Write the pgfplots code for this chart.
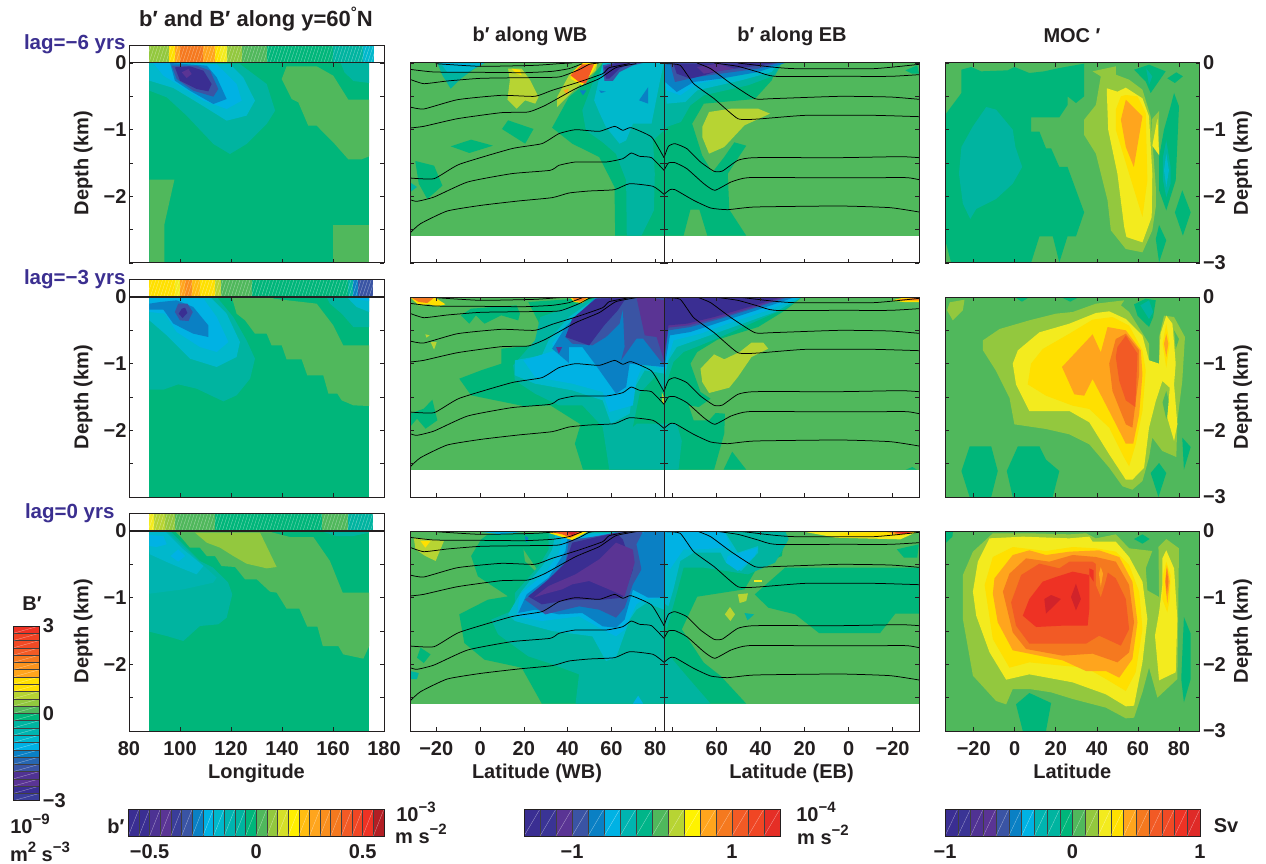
\documentclass[border=0pt]{standalone}
\usepackage{fontspec}
\usepackage{pgfplots}
\pgfplotsset{compat=1.18}
\usetikzlibrary{patterns.meta}
\setmainfont{Liberation Sans}
\definecolor{ink}{HTML}{231F20}
\definecolor{lagc}{HTML}{3B2F90}
\definecolor{c1}{HTML}{3A2E92}\definecolor{c2}{HTML}{5A3494}\definecolor{c3}{HTML}{3A54A4}
\definecolor{c4}{HTML}{0A80C4}\definecolor{c5}{HTML}{00B2E4}\definecolor{c6}{HTML}{00B8CC}
\definecolor{c6x}{HTML}{00B4B0}\definecolor{c7}{HTML}{00B4A0}\definecolor{c8}{HTML}{00B67A}
\definecolor{c9}{HTML}{50B85C}\definecolor{c10}{HTML}{93C83E}\definecolor{c11}{HTML}{B7D433}
\definecolor{c12}{HTML}{F3EB1E}\definecolor{c13}{HTML}{FFE000}\definecolor{c14}{HTML}{FFA51D}
\definecolor{c15}{HTML}{F5791F}\definecolor{c16}{HTML}{F25A25}\definecolor{c17}{HTML}{EE3224}
\definecolor{c18}{HTML}{D1232A}
\newcommand\tk{\fontsize{20}{22}\selectfont\bfseries\color{ink}}
\newcommand\ttl{\fontsize{22}{24}\selectfont\bfseries\color{ink}}
\newcommand\lagfont{\fontsize{20.5}{22}\selectfont\bfseries\color{lagc}}
\newcommand\up[1]{\raisebox{.42em}{\fontsize{15}{15}\selectfont #1}}
\newcommand\Pg[2]{\addplot[fill=#1,draw=none] coordinates {#2} --cycle;}
% strip segment: lon a to b
\newcommand\St[3]{\addplot[fill=#3,draw=none] coordinates {(#1,0)(#2,0)(#2,1)(#1,1)} --cycle;}
\newcommand\Stripe[2]{\addplot[draw=none,opacity=.45,pattern={Lines[angle=72,distance=3.2pt,line width=.35pt]},pattern color=white] coordinates {(#1,0)(#2,0)(#2,1)(#1,1)} --cycle;}
% horizontal and vertical colour-bar swatches
\newcommand\Sw[3]{\addplot[fill=#3,draw=black!75,line width=.5pt] coordinates {(#1,0)(#2,0)(#2,1)(#1,1)} --cycle;
  \addplot[white,opacity=.55,line width=.3pt] coordinates {(#1,0)(#2,1)};}
\newcommand\Sv[3]{\addplot[fill=#3,draw=black!75,line width=.5pt] coordinates {(0,#1)(1,#1)(1,#2)(0,#2)} --cycle;
  \addplot[white,opacity=.55,line width=.3pt] coordinates {(0,#1)(1,#2)};}
\pgfplotsset{
  base/.style={scale only axis,axis on top,clip=true,y dir=reverse,ymin=0,ymax=3,
    axis line style={line width=1pt,color=ink},
    major tick style={line width=.7pt,color=ink},minor tick style={line width=.7pt,color=ink},
    tick align=inside,major tick length=4pt,minor tick length=4pt,
    tick label style={font=\tk},label style={font=\tk},
    minor ytick={.5,1.5,2.5},xlabel style={at={(axis description cs:.5,-.235)},anchor=base}},
  lpanel/.style={base,width=255pt,height=200pt,xmin=80,xmax=180,xtick={80,100,...,180},
    ytick={0,1,2,3},yticklabels={0,−1,−2,{}},ylabel={Depth (km)},
    ylabel style={at={(axis description cs:-.18,.5)},anchor=center},
    xticklabels={},yticklabel style={xshift=1pt}},
  strip/.style={scale only axis,axis on top,width=255pt,height=17pt,xmin=80,xmax=180,ymin=0,ymax=1,
    ticks=none,axis line style={line width=1pt,color=ink}},
  mwb/.style={base,width=254pt,height=200pt,xmin=-32,xmax=84,xtick={-20,0,...,80},ytick={0,1,2,3},yticklabels={},xticklabels={}},
  meb/.style={base,width=255pt,height=200pt,x dir=reverse,xmin=-32,xmax=84,xtick={-20,0,...,80},ytick={0,1,2,3},yticklabels={},xticklabels={}},
  moc/.style={base,width=254.5pt,height=200pt,xmin=-34,xmax=90,xtick={-20,0,...,80},ytick={0,1,2,3},
    yticklabels={0,−1,−2,−3},yticklabel pos=right,ylabel={Depth (km)},
    ylabel style={at={(axis description cs:1.17,.5)},anchor=center,rotate=0},xticklabels={}},
  cbh/.style={scale only axis,height=27pt,ymin=0,ymax=1,ytick=\empty,tick label style={font=\tk},xticklabel style={yshift=-5pt},major tick length=0pt,
    axis line style={line width=.8pt,color=ink},axis on top},
  iso/.style={black,line width=.75pt,line join=round,smooth,tension=.3},
}
\newcommand\WBlines{
\addplot[iso] coordinates {(-20.3,.01)(.2,.05)(25,.035)(36,.01)(42,0)};
\addplot[iso] coordinates {(-32,.095)(-21,.135)(.2,.14)(20.2,.145)(32.9,.125)(40.6,.085)(46.7,.01)};
\addplot[iso] coordinates {(-32,.245)(-25.7,.31)(-15,.27)(.2,.23)(20.2,.22)(36,.21)(45.2,.1)(49.8,.02)(54.4,0)};
\addplot[iso] coordinates {(-32,.66)(-25.7,.69)(-10.3,.55)(9.7,.485)(25,.5)(32.9,.41)(45.2,.285)(56,.16)(59,.07)(68.3,.01)};
\addplot[iso] coordinates {(-32,.975)(-25.7,.95)(-10.3,.835)(9.7,.745)(22,.735)(29.8,.635)(43.6,.385)(54.4,.235)(62,.07)(71.4,.01)};
\addplot[iso] coordinates {(-32,1.725)(-21,1.735)(-9.5,1.52)(14.4,1.285)(28.2,1.21)(36,1.06)(43.6,1)(54.4,1.025)(61.4,.95)(65.2,1.01)(69,.97)(78.3,1.11)(84,1.42)};
\addplot[iso] coordinates {(-32,2.05)(-28.8,2.075)(-21,2.01)(-5.7,1.785)(14.4,1.66)(32,1.61)(36,1.535)(43.6,1.485)(57.5,1.485)(65.2,1.435)(69,1.35)(72.9,1.4)(78.3,1.42)(84,1.61)};
\addplot[iso] coordinates {(-32,2.55)(-27.2,2.41)(-15,2.22)(.5,2.135)(17.4,2.07)(32.9,2.02)(40.6,1.95)(49.8,1.92)(61.4,1.9)(68.3,1.81)(79,1.85)(84,1.97)};
}
\newcommand\EBlines{
\addplot[iso] coordinates {(50.4,0)(35,.06)(24.3,.085)(-11.2,.085)(-32,.02)};
\addplot[iso] coordinates {(61.2,0)(50.4,.05)(41.2,.135)(33.5,.2)(4.2,.2)(-18.9,.2)(-32,.175)};
\addplot[iso] coordinates {(69,0)(62.8,.085)(53.5,.31)(42.7,.535)(35,.535)(4.2,.5)(-18.9,.51)(-32,.545)};
\addplot[iso] coordinates {(82.8,.01)(76.6,.035)(70.5,.31)(61.2,.535)(50.4,.835)(41.2,.84)(19.6,.785)(-11.2,.785)(-32,.805)};
\addplot[iso] coordinates {(84,1.42)(82,1.25)(79,1.21)(73.6,1.285)(67.4,1.485)(61.2,1.625)(57.4,1.62)(50.4,1.46)(42.7,1.42)(4.2,1.42)(-23.5,1.405)(-32,1.42)};
\addplot[iso] coordinates {(84,1.61)(82,1.5)(79,1.495)(73.6,1.585)(65.9,1.81)(60.9,1.91)(53.5,1.785)(45.8,1.72)(19.6,1.72)(-11.2,1.72)(-26.6,1.72)(-32,1.75)};
\addplot[iso] coordinates {(84,1.97)(81.3,1.9)(79,1.9)(70.5,2.06)(62.8,2.175)(55,2.2)(42.7,2.16)(4.2,2.145)(-18.9,2.17)(-32,2.235)};
}
\newcommand\Base[1]{\addplot[fill=#1,draw=none] coordinates {(-32,0)(84,0)(84,2.59)(-32,2.59)} --cycle;}
\begin{document}
\begin{tikzpicture}[x=1pt,y=1pt]
\useasboundingbox (0,0) rectangle (1266,863);

%% ---------- strips ----------
\begin{axis}[strip,at={(129pt,800pt)},anchor=south west]
\St{88}{95.8}{c10}\St{95.8}{98}{c13}\St{98}{100}{c14}\St{100}{109.2}{c15}\St{109.2}{113.7}{c14}\St{113.7}{115.7}{c13}\St{115.7}{118.3}{c12}\St{118.3}{124.2}{c10}\St{124.2}{134}{c9}\St{134}{160.1}{c8}\St{160.1}{171.9}{c7}\St{171.9}{176.1}{c6}
\Stripe{88}{176.1}
\end{axis}
\begin{axis}[strip,at={(129pt,566pt)},anchor=south west]
\St{88}{98}{c13}\St{98}{100}{c12}\St{100}{102}{c14}\St{102}{104.6}{c14!50!c15}\St{104.6}{107.8}{c13!40!c14}\St{107.8}{113.7}{c13}\St{113.7}{116}{c11}\St{116}{128.1}{c9}\St{128.1}{166}{c8}\St{166}{168}{c7}\St{168}{169.9}{c4}\St{169.9}{175.8}{c3}
\Stripe{88}{175.8}
\end{axis}
\begin{axis}[strip,at={(129pt,332pt)},anchor=south west]
\St{88}{89.9}{c12}\St{89.9}{94.1}{c11}\St{94.1}{98}{c10}\St{98}{113.7}{c9}\St{113.7}{155.6}{c8}\St{155.6}{166}{c9}\St{166}{175.8}{c7}
\Stripe{88}{175.8}
\end{axis}

%% ---------- longitude panels ----------
\begin{axis}[lpanel,at={(129pt,600pt)},anchor=south west]
\Pg{c8}{(88,0)(174.2,0)(174.2,3)(88,3)}
\Pg{c9}{(141.8,.05)(153.6,.05)(160.1,.19)(166,.55)(174.2,.55)(174.2,1.4)(171.2,1.445)(166,1.445)(160.1,1.19)(153.6,.94)(150.3,.94)(146.4,.59)(143.8,.54)(139.9,.24)}
\Pg{c9}{(88,1.75)(97.8,1.75)(93.9,2.415)(93.9,3)(88,3)}
\Pg{c9}{(160.1,2.425)(174.2,2.425)(174.2,3)(160.1,3)}
\Pg{c7}{(163,0)(174.2,0)(174.2,.3)(168,.27)(164.5,.14)}
\Pg{c7}{(88,.415)(94.8,.515)(102.6,.79)(113.1,1.215)(119.6,1.365)(126.1,1.215)(134,.915)(137.3,.715)(134,.315)(123.5,.015)(88,0)}
\Pg{c6}{(88,0)(88,.265)(97.4,.375)(107.8,.615)(118.3,.865)(126.1,.79)(129.4,.565)(124.8,.215)(119.6,.015)}
\Pg{c5}{(89.5,0)(93.5,.19)(100,.34)(109.2,.565)(118.3,.69)(124.2,.565)(122.2,.315)(114.4,.015)}
\Pg{c4}{(96.1,0)(98,.265)(103.9,.415)(113.1,.615)(118.3,.54)(114.4,.215)(110.5,.04)}
\Pg{c3}{(96.7,.04)(98.7,.24)(105.2,.415)(113.1,.505)(115,.39)(111.8,.115)(106.5,.04)}
\Pg{c1}{(98,.065)(100,.265)(106.5,.39)(111.1,.425)(112.4,.315)(109.2,.115)(103.9,.05)}
\Pg{c2}{(100.7,.14)(102.6,.225)(104.6,.165)(103.3,.09)}
\end{axis}

\begin{axis}[lpanel,at={(129pt,366pt)},anchor=south west]
\Pg{c8}{(88,0)(174.2,0)(174.2,3)(88,3)}
\Pg{c9}{(120.3,0)(136.6,0)(136.6,.025)(153.6,.1)(160.1,.425)(164,.725)(174.2,.725)(174.2,1.635)(168,1.625)(163.4,1.55)(161.7,1.45)(158.2,1.45)(156.2,1.175)(149.9,1.175)(147.7,.935)(141.8,.935)(139.9,.725)(135.9,.725)(134,.55)(129.4,.55)(125.5,.35)(122.2,.25)}
\Pg{c7}{(157.5,0)(174.2,0)(174.2,.45)(168,.45)(163.4,.25)(158.8,.1)}
\Pg{c6}{(165.4,0)(174.2,0)(174.2,.225)(169.3,.15)}
\Pg{c5}{(168,0)(174.2,0)(174.2,.06)(170,.04)}
\Pg{c7}{(88,0)(88,1.39)(93.5,1.39)(99.3,1.31)(106.5,1.375)(117,1.565)(122.2,1.475)(127.5,1.225)(129.4,.925)(126.1,.65)(120.9,.3)(114.4,0)}
\Pg{c6}{(88,0)(88,.35)(94.8,.575)(103.9,.925)(114.4,1.05)(122.2,.9)(123.5,.675)(118.3,.25)(111.8,0)}
\Pg{c5}{(88,0)(88,.225)(94.1,.25)(98.7,.525)(107.8,.75)(114.4,.825)(119,.675)(114.4,.3)(109.2,.025)}
\Pg{c4}{(88,.1)(88,.19)(93.5,.19)(97.4,.4)(105.2,.55)(111.1,.6)(111.1,.425)(105.2,.15)(98.7,.05)(92.2,.075)}
\Pg{c3}{(98,.225)(100,.35)(103.3,.36)(105,.225)(102.9,.1)(99.3,.1)}
\Pg{c1}{(99.5,.25)(101,.315)(102.9,.24)(102,.16)(100.7,.175)}
\end{axis}

\begin{axis}[lpanel,at={(129pt,132pt)},anchor=south west,
  xticklabels={80,100,120,140,160,180},xlabel={Longitude},xticklabel style={yshift=-7pt}]
\Pg{c8}{(88,0)(174.2,0)(174.2,3)(88,3)}
\Pg{c9}{(98,0)(134,0)(143.1,.09)(152.3,.09)(158.8,.45)(163.8,.925)(174.2,.925)(174.2,1.725)(171.9,1.915)(164,1.85)(162.1,1.725)(156,1.725)(153.9,1.435)(149.9,1.435)(146.8,1.165)(141.8,1.165)(137.9,.925)(135.3,.91)(130.1,.725)(125.5,.725)(121.6,.54)(116.3,.525)(113.7,.375)(110.5,.375)(107.8,.25)(103.9,.25)(100,.075)}
\Pg{c10}{(105.9,.025)(131.4,.025)(137.9,.54)(134,.56)(126.1,.49)(120.9,.375)(115.7,.25)(110.5,.175)}
\Pg{c7}{(154.9,0)(174.2,0)(174.2,.025)(168,.075)(161.4,.075)}
\Pg{c7}{(88,0)(96.1,0)(107.8,.45)(113,.55)(118.9,.775)(120.5,.95)(118.3,1.3)(115,1.4)(107.8,1.425)(101.3,1.65)(94.8,1.575)(88,1.51)}
\Pg{c6x}{(88,0)(94.8,0)(106.5,.425)(114.4,.7)(113,.775)(101.3,.875)(88,.94)}
\Pg{c6}{(88,0)(94.1,0)(101.3,.275)(109.2,.525)(106.5,.65)(100,.55)(95.4,.475)(88.2,.35)(88,.3)}
\Pg{c5}{(88,.06)(93.5,.075)(94.8,.2)(90.8,.24)(88,.225)}
\Pg{c5}{(96.3,.375)(99.3,.275)(102,.375)(99.3,.46)}
\end{axis}

%% ---------- row 1, WB ----------
\begin{axis}[mwb,at={(410pt,600pt)},anchor=south west]
\Base{c9}
\Pg{c8}{(84,0)(56,0)(49.8,.26)(40.6,.51)(32.9,.97)(42.1,1.21)(54.4,1.41)(61.4,1.86)(61.7,2.59)(84,2.59)}
\Pg{c7}{(57.5,0)(51.3,.31)(46.7,.71)(48.3,1.01)(56,1.19)(62,1.36)(66.7,1.76)(67,2.59)(73.7,2.59)(79.4,2.21)(79.8,1.66)(79,1.16)(84,1.01)(84,0)}
\Pg{c6}{(56,0)(52.1,.56)(54.4,.74)(57.5,.96)(63.7,1.21)(66.7,1.16)(69.8,.91)(78.3,.91)(82.2,.26)(84,0)}
\Pg{c4}{(72.6,.56)(76.8,.36)(76.8,.61)}
\Pg{c3}{(56,.035)(60.6,0)(74.4,0)(69.8,.035)(63.7,.135)(60.6,.27)(56.8,.27)}
\Pg{c1}{(56.7,.06)(62,0)(69,0)(63.7,.085)(59,.235)(57.5,.235)}
\Pg{c7}{(-19.5,0)(2,0)(-2.6,.085)(-8.8,.235)(-13.4,.385)(-17.2,.185)}
\Pg{c6}{(-18,0)(2,0)(-5.7,.135)(-15,.135)}
\Pg{c5}{(-19.5,0)(0,.02)(-10,.03)}
\Pg{c8}{(-29.6,1.47)(-21,1.54)(-17.2,1.84)(-24.1,2.04)(-28,1.81)}
\Pg{c7}{(-32,1.79)(-28.8,1.86)(-32,1.94)}
\Pg{c8}{(12.8,.86)(24.4,.99)(20.6,1.21)(10,.99)}
\Pg{c8}{(-13.4,1.25)(-4.1,1.15)(5.9,1.24)(-4.9,1.35)}
\Pg{c11}{(12.8,.085)(19,.085)(22.9,.26)(26.7,.51)(25.2,.61)(20.6,.56)(16.7,.685)(12.5,.55)(13.6,.26)}
\Pg{c13}{(14.4,.085)(18.2,.1)(19,.185)(16.7,.16)}
\Pg{c11}{(35.2,.66)(35.2,.51)(40.6,.185)(46.7,.01)(53.6,0)(52.9,.11)(43.6,.385)}
\Pg{c13}{(41.3,.16)(46.7,0)(53.6,0)(51.3,.135)(46.7,.335)(41.3,.235)}
\Pg{c16}{(41.3,.185)(46.7,.02)(52,.02)(48.3,.31)(45.2,.285)}
\Pg{c14}{(38.2,.41)(40.5,.385)(39.8,.485)}
\Pg{c4}{(45.5,.41)(48.6,.41)(47,.485)}
\Pg{c4}{(54.4,.41)(57.5,.43)(55.2,.45)}
\WBlines
\end{axis}
%% ---------- row 1, EB ----------
\begin{axis}[meb,at={(664pt,600pt)},anchor=south west]
\Base{c9}
\Pg{c8}{(84,0)(32,0)(35,.26)(42.7,.54)(65.9,.61)(71.2,.91)(66.6,1.39)(62,1.64)(56.6,1.41)(52,1.19)(46.6,1.24)(55,1.66)(54.3,2.2)(46.6,2.59)(64.3,2.59)(67.9,2.2)(72,2.2)(75.1,2.59)(84,2.59)}
\Pg{c7}{(84,0)(30.4,0)(33.5,.185)(45.8,.335)(65.9,.485)(72,.635)(76.3,.885)(82.8,.96)(84,1.16)}
\Pg{c6}{(84,0)(32,0)(35,.135)(48.9,.26)(68.9,.41)(74.3,.585)(82.8,.61)}
\Pg{c5}{(84,0)(30.4,0)(36.6,.085)(50.4,.185)(68.9,.31)(76.6,.485)(82.8,.41)}
\Pg{c4}{(84,0)(28.9,0)(41.2,.135)(58.2,.235)(70.5,.285)(78.2,.435)(83.5,.285)}
\Pg{c3}{(81.3,0)(32,0)(41.2,.085)(58.2,.16)(69,.21)(79,.285)}
\Pg{c1}{(79.7,.01)(33.5,0)(45.8,.06)(58.2,.11)(65.9,.185)(72,.235)(78.2,.16)}
\Pg{c2}{(69,.06)(59.7,.01)(52,.085)(65.9,.16)}
\Pg{c11}{(66.6,.96)(63.5,.735)(53.5,.685)(41.2,.685)(35.8,.76)(47.4,.935)(56.6,1.26)(63.5,1.36)(66.6,1.11)}
\Pg{c8}{(-25.8,.11)(-31.2,.035)(-32,.16)(-28.8,.16)}
\EBlines
\end{axis}
%% ---------- row 2, WB ----------
\begin{axis}[mwb,at={(410pt,366pt)},anchor=south west]
\Base{c9}
\Pg{c8}{(-8.8,.275)(-4.1,.175)(16.7,.125)(18.2,.25)(17.4,.35)(9.7,.275)(2,.4)(-1.9,.275)(-4.9,.4)}
\Pg{c8}{(56,0)(22,.075)(26.7,.375)(28.2,.625)(25.1,.725)(9.7,.775)(9.7,1)(.5,1.1)(-9.5,1.225)(-4.1,1.475)(20.5,1.64)(32.1,1.625)(45.9,1.91)(43.3,2.2)(47,2.59)(84,2.59)(84,0)}
\Pg{c7}{(54.4,0)(27.5,.3)(25.1,.65)(15.1,1.025)(15.9,1.25)(25.1,1.45)(36,1.625)(46.7,1.625)(56,1.95)(59,2.59)(84,2.59)(84,0)}
\Pg{c8}{(69.8,1.95)(72.9,1.45)(80.6,1.175)(84,1.45)(84,1.9)(71.4,1.9)}
\Pg{c11}{(83,1.425)(84,1.5)(84,1.62)(83,1.55)}
\Pg{c6}{(53.6,0)(40.6,.3)(31.3,.65)(28.2,.875)(15.9,.95)(15.9,1.175)(25.1,1.3)(42.1,1.4)(56,1.55)(59.8,1.9)(68.3,1.75)(69.8,1.4)(75.2,1.1)(84,1.15)(84,0)}
\Pg{c5}{(54.4,0)(40.6,.4)(32.9,.7)(34.4,.8)(19.8,.95)(25.1,1.2)(42.1,1.3)(56,1.425)(59,1.725)(69.8,1.625)(71.4,1.25)(74.5,1)(84,1.075)(84,0)}
\Pg{c4}{(52.9,0)(39,.45)(32.9,.775)(40.6,.99)(40.6,.75)(46.7,.75)(52.9,1.025)(62.1,1.45)(66.7,1.35)(68.3,1)(84,1.05)(84,0)}
\Pg{c3}{(54.4,0)(42.1,.35)(39,.6)(42.1,.7)(51.3,.725)(57.5,.6)(63.7,.4)(65.2,.175)(66,.75)(64.4,.95)(71.4,.625)(74.5,.625)(84,1.025)(84,0)}
\Pg{c1}{(52.9,.025)(42.1,.325)(39,.6)(49.8,.725)(56.7,.425)(62.9,.2)(66.7,.01)}
\Pg{c2}{(71.4,0)(75.2,.575)(80.6,.6)(84,.95)(84,.05)(76.8,0)}
\Pg{c2}{(34.7,.75)(37.5,.75)(36,.85)}
\Pg{c13}{(-32,0)(-20.5,.01)(-15.8,.11)(-19.5,.14)(-23.4,.11)(-28,.125)}
\Pg{c15}{(-31.4,.01)(-21,.01)(-24.1,.09)(-28,.075)}
\Pg{c13}{(41.3,.01)(49.8,.01)(46.7,.09)(42.8,.075)}
\Pg{c15}{(42.1,.01)(49,.01)(46,.07)(43.4,.06)}
\Pg{c11}{(-22.6,.675)(-19.8,.675)(-21,.79)}
\Pg{c11}{(-25,.56)(-23,.575)(-24.5,.61)}
\Pg{c8}{(-21.8,1.54)(-19.5,1.85)(-24.9,1.975)(-28.8,1.825)(-32,1.95)(-32,1.75)(-25.7,1.675)}
\WBlines
\end{axis}
%% ---------- row 2, EB ----------
\begin{axis}[meb,at={(664pt,366pt)},anchor=south west]
\Base{c9}
\Pg{c8}{(84,0)(21.2,0)(28.9,.2)(41.2,.45)(59.7,.64)(68.9,.825)(72,1)(67.4,1.425)(62.8,1.525)(68.2,1.65)(72.8,1.625)(70.5,1.85)(63.5,1.85)(60.5,1.74)(56.3,1.75)(56.6,2.05)(61.2,2.59)(84,2.59)}
\Pg{c8}{(56.9,2.59)(53,2.32)(46.6,2.59)}
\Pg{c7}{(84,0)(21.2,0)(27.3,.15)(41.2,.35)(56.6,.575)(67.4,.725)(75.1,.825)(79.7,.975)(84,1.4)}
\Pg{c7}{(84,1.9)(78.2,1.9)(75.9,2.16)(77.4,2.59)(84,2.59)}
\Pg{c6}{(84,0)(21.2,0)(33.5,.225)(50.4,.425)(67.4,.625)(78.2,.75)(82,.95)(84,1.25)}
\Pg{c5}{(84,0)(22,0)(36.6,.2)(55,.4)(67.4,.55)(79.7,.65)(84,1.15)}
\Pg{c4}{(84,0)(24.3,0)(39.7,.175)(58.2,.375)(72,.525)(81.3,.575)(84,1.1)}
\Pg{c3}{(84,0)(27.3,0)(41.2,.15)(58.2,.325)(72,.45)(82,.5)(84,1)}
\Pg{c2}{(84,0)(28.9,0)(41.9,.14)(59.7,.315)(72.8,.425)(82,.46)(84,.95)}
\Pg{c1}{(84,0)(30.4,0)(42.7,.125)(61.2,.3)(73.6,.4)(82,.425)(84,.9)}
\Pg{c11}{(67.4,1.075)(61.2,.86)(56.6,.935)(49.6,.825)(44.2,.685)(38.8,.685)(36.6,.775)(44.2,.9)(50.4,1.2)(54.3,1.36)(63.5,1.44)(66.6,1.275)}
\Pg{c13}{(-19.7,.05)(-25,.01)(-32,.01)(-32,.075)(-25,.075)}
\Pg{c15}{(-22,.04)(-32,.01)(-32,.05)(-25,.05)}
\Pg{c8}{(-26,2.59)(-29,2.55)(-31,2.59)}
\EBlines
\end{axis}
%% ---------- row 3, WB ----------
\begin{axis}[mwb,at={(410pt,132pt)},anchor=south west,
  xticklabels={−20,0,20,40,60,80},xlabel={Latitude (WB)},xticklabel style={yshift=-7pt}]
\Base{c9}
\Pg{c8}{(-4.1,.375)(.5,.125)(3.6,.05)(29.8,.025)(40.6,.025)(84,0)(84,2.59)(28.2,2.59)(19,2.05)(2,1.93)(-7.2,1.68)(-9.5,1.25)(3.6,1.03)(12.8,.98)(-1,.68)}
\Pg{c9}{(19.8,.275)(29,.725)(24.4,.575)(20.5,.45)}
\Pg{c8}{(-27.2,1.75)(-22.6,1.85)(-25.7,1.98)(-28.8,1.9)}
\Pg{c7}{(-32,2.1)(-28,2.13)(-28.8,2.22)(-32,2.22)}
\Pg{c7}{(31.3,.025)(83.7,0)(84,2.59)(43.6,2.59)(45.2,2.15)(31.3,1.98)(22,1.88)(8.2,1.55)(5.1,1.33)(15.9,1.18)(15.9,.93)(26.7,.53)(31.3,.28)}
\Pg{c6}{(34.4,.05)(83.7,0)(84,1.18)(76,1.08)(71.4,1.18)(68.3,1.33)(62.1,1.9)(57.5,1.95)(51.3,1.58)(32.9,1.5)(15.9,1.35)(12.8,1.25)(19,.9)(29,.5)(32.9,.28)}
\Pg{c5}{(37.5,.075)(83.7,0)(84,1)(74.5,1.03)(71.4,1.1)(66,1.48)(62.1,1.58)(56,1.48)(45.2,1.28)(28.2,1.35)(16.7,1.28)(18.2,.95)(29.8,.63)(36,.33)}
\Pg{c4}{(39.8,.125)(83.7,0)(84,1)(76.8,1)(69.8,.88)(66,1.33)(62.1,1.45)(56,1.43)(46.7,1.23)(36,1.25)(25.1,1.18)(17.4,1.23)(21.3,.95)(31.3,.7)(39,.3)}
\Pg{c3}{(40.6,.15)(63.7,.015)(74.5,0)(71.4,.2)(73.7,.575)(69.8,.8)(66,1.15)(62.1,1.3)(54.4,1.18)(45.2,1.13)(29.8,1.25)(20.5,1.03)(29.8,.78)(39,.475)}
\Pg{c1}{(42.1,.175)(62.1,.025)(65.2,.125)(69.8,.575)(65.2,1)(56,1.03)(42.1,1.03)(28.2,1.1)(22,.98)(31.3,.725)(39,.475)}
\Pg{c2}{(62.1,.175)(69.8,.28)(70.6,.475)(66,.98)(60.6,.9)(49.8,.75)(42.1,.8)(37.5,.875)(29,.95)(24.4,1)(31.3,.825)(43.6,.65)(54.4,.425)}
\Pg{c4}{(72.9,.125)(75.2,0)(84,0)(84,1)(76.8,.8)(73.7,.575)(74.5,.225)}
\Pg{c11}{(-30.3,.1)(-16.5,.15)(-20.3,.45)(-25,.375)(-29.5,.275)}
\Pg{c13}{(-27.2,.15)(-22.6,.15)(-25,.25)}
\Pg{c13}{(29.8,.015)(49.8,0)(42.1,.135)(36,.075)}
\Pg{c16}{(32.1,.015)(47.5,0)(41.3,.1)(37.5,.05)}
\Pg{c18}{(39,0)(45.2,0)(42.1,.065)}
\Pg{c5}{(.5,.015)(19,.015)(9.7,.05)}
\Pg{c4}{(20.5,.075)(22,.1)(21.5,.175)(20.8,.15)}
\Pg{c5}{(69.8,2.59)(72.2,2.47)(74.5,2.59)}
\WBlines
\end{axis}
%% ---------- row 3, EB ----------
\begin{axis}[meb,at={(664pt,132pt)},anchor=south west,
  xticklabels={−20,0,20,40,60,{}},xlabel={Latitude (EB)},xticklabel style={yshift=-7pt}]
\Base{c9}
\Pg{c8}{(42.7,.95)(28.9,.55)(-32,.55)(-32,1.24)(-21.2,1.24)(-14.3,1.53)(13.5,1.53)(24.3,1.25)(36.6,1.15)}
\Pg{c8}{(84,0)(28.9,0)(30.4,.375)(41.2,.525)(47.4,.875)(68.9,.985)(75.9,1.475)(65.9,1.975)(58.2,2.175)(46.6,2.59)(84,2.59)}
\Pg{c7}{(84,0)(28.9,0)(27.3,.125)(33.5,.475)(45.8,.65)(65.9,.55)(75.1,.55)(79,1.03)(82.8,1.475)(84,1.23)}
\Pg{c7}{(84,1.975)(81.3,1.88)(73.6,2.18)(62.8,2.59)(84,2.59)}
\Pg{c6}{(84,0)(56.6,0)(50.4,.325)(41.2,.225)(41.2,.325)(48.9,.6)(55.8,.475)(58.2,.325)(70.5,.325)(76.6,.45)(79.7,.875)(82,1.13)(84,1.08)}
\Pg{c5}{(84,0)(56.6,0)(53.5,.25)(68.9,.275)(75.1,.275)(81.3,.575)(83.5,.425)}
\Pg{c5}{(55,.375)(41.2,.25)(42.7,.375)(50.4,.6)(55.8,.475)}
\Pg{c11}{(50.4,.95)(45.8,.935)(46.6,1.05)(49.6,1.08)}
\Pg{c11}{(54,1.14)(51.7,1.25)(53.8,1.35)(56.3,1.25)}
\Pg{c12}{(43,.74)(39.3,.74)(39.3,.765)(43,.765)}
\Pg{c7}{(47.4,1.23)(43,1.25)(46,1.34)}
\Pg{c12}{(19.6,.015)(-32,0)(-23.5,.125)(5.8,.1)}
\Pg{c13}{(4,.035)(-32,0)(-23.5,.075)(4,.075)}
\Pg{c15}{(-17.4,.025)(-32,0)(-23.5,.05)}
\Pg{c17}{(-20.5,.015)(-29.5,.01)(-25,.045)}
\Pg{c8}{(-21.9,.275)(-31.9,.2)(-31.2,.4)(-25.2,.4)}
\EBlines
\end{axis}

%% ---------- MOC row 1 ----------
\begin{axis}[moc,at={(945pt,600pt)},anchor=south west]
\Pg{c9}{(-34,0)(90,0)(90,3)(-34,3)}
\Pg{c8}{(-34,.78)(-26,.45)(-26,.1)(-21.2,.06)(-16.4,.125)(-3.4,.11)(-.2,.06)(7.1,.15)(14.4,.125)(21.7,.075)(33.8,.01)(33.8,.5)(29.8,.6)(25.7,.5)(25.7,.63)(21.7,.815)(7.9,.815)(7.9,1.03)(12,1.03)(15.2,1.28)(17.7,1.28)(21.7,1.56)(25.7,1.56)(33.8,2.24)(29.8,2.6)(25.7,2.6)(21.7,2.99)(18.5,2.6)(12,2.6)(7.9,3)(-31,3)(-34,2.64)}
\Pg{c7}{(-13.9,.66)(-9.1,.7)(-1,1)(.3,1.26)(3.6,1.56)(-1,1.81)(-9.1,2.04)(-18.8,2.19)(-21.7,2.34)(-25.3,2.11)(-27.2,1.66)(-26,1.26)(-20.4,.95)}
\Pg{c10}{(37.9,.125)(49.2,.05)(49.2,.175)(55.7,.25)(62.2,.4)(66.2,.8)(68.7,1.86)(68.7,2.16)(67,2.51)(62.2,2.84)(54.1,2.79)(46.8,2.51)(45.2,2.06)(39.5,1.36)(33.8,1.08)(33.8,.85)(39.5,.63)(41.9,.2)}
\Pg{c10}{(68,.8)(70.3,.72)(70.3,1.38)(67,1.24)(66.7,.85)}
\Pg{c12}{(69.5,.83)(70.3,1.38)(67,1.24)}
\Pg{c12}{(44.9,.48)(45.5,1)(50,1.66)(53.3,2.46)(54.4,2.61)(62.2,2.69)(66.7,2.31)(67,1.66)(65.4,.8)(62.2,.53)(54.1,.37)(50,.43)(44.9,.38)}
\Pg{c13}{(54.1,.48)(59.8,.5)(63.8,.75)(64.6,1.76)(62.2,2.31)(55.7,1.66)(49.2,1)(49.2,.7)(51.7,.5)}
\Pg{c14}{(54.1,.55)(62.2,.8)(58,1.56)(54.1,1.26)(51.7,.85)}
\Pg{c8}{(77.6,.45)(80,.65)(78.4,1.76)(73.8,2.21)(70.3,1.91)(70.3,1.41)(72.7,1)(75.9,.65)}
\Pg{c7}{(73.8,1.16)(75.9,1.56)(75.9,1.81)(73.8,2.01)(72.2,1.76)(72.2,1.41)}
\Pg{c6}{(73.8,1.36)(75.1,1.61)(73.8,1.86)(72.7,1.61)}
\Pg{c8}{(81.6,1.91)(85.7,2.24)(81.9,2.59)(78,2.24)}
\Pg{c8}{(70.3,2.43)(73.8,2.66)(70.3,2.99)(68.7,2.64)}
\Pg{c8}{(58.1,.1)(65.4,.025)(73.5,.125)(66.2,.45)(63.8,.28)}
\Pg{c7}{(64,.08)(67,.2)(65.4,.33)}
\Pg{c8}{(74.3,.23)(78.7,.14)(81.9,.2)(78,.3)}
\end{axis}
%% ---------- MOC row 2 ----------
\begin{axis}[moc,at={(945pt,366pt)},anchor=south west]
\Pg{c9}{(-34,0)(90,0)(90,3)(-34,3)}
\Pg{c10}{(-15.5,.65)(-7.4,.48)(7.1,.35)(20,.25)(28.2,.225)(39.5,.1)(53.3,.05)(51.7,.125)(55.7,.225)(65.4,.7)(65.4,1.03)(70.3,1.03)(70.3,.6)(72.7,.28)(77.6,.3)(82.9,.6)(81.6,1.26)(79.2,1.86)(78.7,2.4)(71.9,2.31)(67,2.11)(65.4,2.41)(62.2,2.76)(57.3,2.89)(52.5,2.84)(46,2.56)(36.3,2.21)(26.6,2.06)(15.2,1.98)(-.2,1.91)(-2.6,1.51)(-9.1,1.11)(-15.5,.8)}
\Pg{c10}{(-33,.2)(-31.7,.08)(-24.5,.04)(-25.3,.2)(-30.2,.35)}
\Pg{c9}{(73.8,1.41)(75.5,1.61)(73.8,1.83)(72,1.58)}
\Pg{c9}{(77.6,.5)(80,.63)(78.4,.78)}
\Pg{c12}{(-1,1)(1.5,.8)(12,.53)(26.6,.4)(39.5,.24)(46,.215)(54.1,.33)(62.2,.58)(65.4,.95)(70.3,1)(71,.55)(73.8,.28)(76.8,.4)(78.4,1)(77.6,1.31)(79.2,1.91)(77.6,2.16)(74.3,1.81)(75.5,1.36)(71.9,1.26)(68.7,1.56)(65.4,1.96)(63,2.56)(57.3,2.74)(54.1,2.74)(46,2.36)(36.3,1.88)(26.6,1.71)(7.1,1.71)(.6,1.31)}
\Pg{c13}{(6.3,1.31)(7.9,1)(13.6,.78)(26.6,.55)(37.9,.34)(47.6,.3)(55.7,.43)(62.2,.8)(63.8,1.1)(62.2,1.71)(58.9,2.21)(55.7,2.54)(53.3,2.41)(46,1.96)(36.3,1.68)(28.2,1.63)(15.2,1.48)}
\Pg{c13}{(73.8,.4)(75.5,.7)(73.8,1.06)(72,.7)}
\Pg{c14}{(23,1.05)(37.9,.56)(41.9,.83)(45.2,.45)(54.1,.5)(61.4,.8)(62.2,1.16)(60.6,1.76)(57.7,2.2)(54.1,2.2)(46.8,1.76)(37.9,1.23)(33.8,1.48)(29,1.46)}
\Pg{c15}{(46,1)(49.2,.63)(54.1,.55)(60.6,.8)(60.6,1.16)(57.3,1.96)(54.1,1.91)(47.6,1.41)}
\Pg{c16}{(49.2,.9)(50,.75)(54.1,.58)(59.8,.85)(58.7,1.65)(54.1,1.55)(50.9,1.26)}
\Pg{c14}{(73.8,.55)(74.8,.7)(73.8,.9)(72.7,.7)}
\Pg{c8}{(-22,2.24)(-11.5,2.24)(-8.3,2.61)(-11.5,3)(-22,3)(-26,2.61)}
\Pg{c8}{(1.5,2.24)(12,2.24)(15.2,2.44)(21.7,2.61)(18.5,3)(-1,3)(-3.9,2.61)}
\Pg{c8}{(70.3,2.49)(73.8,2.64)(70,3)(66.2,2.64)}
\Pg{c8}{(81.6,2.11)(85.7,2.25)(82.4,2.59)}
\Pg{c8}{(58.1,.11)(63.8,.025)(68.7,.05)(67.4,.3)(65.4,.45)(59.8,.28)}
\Pg{c7}{(61.2,.125)(65.4,.05)(67.4,.225)(65.4,.33)}
\Pg{c8}{(22.5,0)(31.4,0)(27,.07)}
\Pg{c8}{(-.2,0)(7.1,0)(3.5,.07)}
\end{axis}
%% ---------- MOC row 3 ----------
\begin{axis}[moc,at={(945pt,132pt)},anchor=south west,
  xticklabels={−20,0,20,40,60,80},xlabel={Latitude},xticklabel style={yshift=-7pt}]
\Pg{c9}{(-34,0)(90,0)(90,3)(-34,3)}
\Pg{c10}{(-25.3,.66)(-20.4,.31)(-10.7,.035)(7.1,.035)(26.6,.05)(34.7,.035)(39.5,.11)(49.2,.05)(55.7,.26)(67,.3)(63.8,.56)(64.6,.89)(70.3,.99)(70,.24)(73.8,.12)(80,.26)(79.2,2.22)(69.5,2.5)(65.4,2.05)(62.2,2.42)(58.1,2.8)(54.1,2.81)(44.4,2.65)(28.2,2.52)(17.7,2.42)(7.1,2.37)(-1,2.37)(-4.2,2.6)(-9.1,2.55)(-20.4,2.17)(-25.3,1.32)}
\Pg{c12}{(-20.4,.91)(-18,.46)(-12.3,.11)(3.9,.085)(26.6,.11)(36.3,.085)(37.9,.16)(49.2,.16)(55.7,.39)(62.2,.76)(64.6,1.32)(62.2,1.97)(58.1,2.62)(54.1,2.63)(44.4,2.45)(28.2,2.27)(7.1,2.15)(-4.2,2.23)(-12.3,1.82)(-18.8,1.27)}
\Pg{c13}{(-14.7,.81)(-10.7,.39)(-1,.24)(15.2,.3)(28.2,.24)(39.5,.26)(49.2,.31)(55.7,.51)(60.6,.91)(62.2,1.47)(58.9,2.12)(54.1,2.4)(44.4,2.22)(34.7,2.05)(23.3,2.02)(7.1,1.97)(-2.6,2.05)(-10.7,1.62)}
\Pg{c14}{(-10.7,.94)(-9.9,.71)(-1,.36)(7.1,.29)(15.2,.36)(26.6,.31)(41.1,.29)(50.9,.39)(57.3,.76)(59.8,1.37)(57.3,1.92)(50.9,2.2)(44.4,2.1)(34.7,2.1)(23.3,1.94)(7.1,1.84)(-1,1.79)(-8.3,1.37)}
\Pg{c15}{(-5.8,.91)(-2.6,.64)(5.5,.41)(16.8,.46)(28.2,.36)(39.5,.39)(49.2,.46)(55.7,.81)(58.1,1.37)(55.7,1.82)(50,1.97)(37.9,1.84)(23.3,1.87)(5.5,1.77)(-1,1.52)}
\Pg{c16}{(-1.8,1.07)(3.1,.66)(12,.49)(21.7,.56)(26.6,.46)(37.9,.46)(49.2,.71)(54.1,1.02)(55.7,1.47)(51.7,1.72)(41.1,1.57)(34.7,1.69)(7.1,1.69)(.6,1.42)}
\Pg{c17}{(3.9,1.27)(7.1,1.02)(13.6,.76)(20,.69)(28.2,.61)(36.3,.66)(36.3,1.17)(35.5,1.42)(23.3,1.42)(10.4,1.44)}
\Pg{c17}{(36.3,.56)(38.4,.59)(38.4,.76)(36.3,.66)}
\Pg{c15}{(39.5,.49)(45.8,.56)(44.2,.76)(41.9,.99)(39.5,.81)}
\Pg{c14}{(41.9,.54)(43,.64)(41.9,.84)(41,.64)}
\Pg{c18}{(14.4,1.02)(17.7,.96)(22.5,1.02)(15.2,1.24)}
\Pg{c18}{(29.8,.79)(32.2,1.02)(29.8,1.19)(27.4,.99)}
\Pg{c12}{(73.8,.29)(77.6,.56)(79.2,1.32)(78.4,2.12)(70.3,2.24)(68.3,1.57)(70.3,1.22)(71.9,.81)(71.9,.41)}
\Pg{c13}{(73.8,.46)(75.9,.66)(75.5,1.02)(74.3,1.22)(71.9,1.02)(72.2,.66)}
\Pg{c14}{(74.1,.51)(75.5,.76)(74.3,1.09)(73.2,.76)}
\Pg{c15}{(74.1,.55)(74.8,.76)(74.1,.96)(73.5,.76)}
\Pg{c8}{(82.4,1.29)(85.7,1.54)(85.7,2.22)(82.4,2.57)(81.1,2.22)}
\Pg{c8}{(.6,2.6)(7.1,2.43)(17.7,2.58)(15.2,3)(3.9,3)}
\Pg{c8}{(58.1,.12)(62.2,.05)(65.7,.12)(62.2,.19)}
\Pg{c8}{(-34,0)(-30.1,0)(-30.4,.085)(-34,.19)}
\end{axis}

%% ---------- colour bars ----------
\begin{axis}[scale only axis,width=26pt,height=174.7pt,at={(13.3pt,62.3pt)},anchor=south west,xmin=0,xmax=1,ymin=-3,ymax=3,
  xtick=\empty,ytick={-3,0,3},yticklabels={−3,0,3},yticklabel pos=right,tick label style={font=\tk},major tick length=0pt,
  axis line style={line width=.8pt,color=ink},axis on top]
\Sv{-3}{-2.75}{c3!40!c1}\Sv{-2.75}{-2.5}{c1}\Sv{-2.5}{-2.25}{c2}\Sv{-2.25}{-2}{c2!70!c1}
\Sv{-2}{-1.75}{c3}\Sv{-1.75}{-1.5}{c3!60!c4}\Sv{-1.5}{-1.25}{c4}\Sv{-1.25}{-1}{c5}
\Sv{-1}{-.75}{c6}\Sv{-.75}{-.5}{c6x}\Sv{-.5}{-.25}{c7}\Sv{-.25}{0}{c8}
\Sv{0}{.25}{c9}\Sv{.25}{.5}{c10}\Sv{.5}{.75}{c11}\Sv{.75}{1}{c13}
\Sv{1}{1.25}{c13}\Sv{1.25}{1.5}{c14}\Sv{1.5}{1.75}{c14!60!c15}\Sv{1.75}{2}{c15}
\Sv{2}{2.25}{c16}\Sv{2.25}{2.5}{c16!60!c17}\Sv{2.5}{2.75}{c16!40!c17}\Sv{2.75}{3}{c17}
\end{axis}

\begin{axis}[cbh,width=255.7pt,at={(128.3pt,27pt)},anchor=south west,xmin=-.6,xmax=.6,xtick={-.5,0,.5},xticklabels={−0.5,0,0.5}]
\Sw{-.6}{-.55}{c1}\Sw{-.55}{-.5}{c1}\Sw{-.5}{-.45}{c2!60!c1}\Sw{-.45}{-.4}{c2}\Sw{-.4}{-.35}{c1!60!c3}
\Sw{-.35}{-.3}{c3}\Sw{-.3}{-.25}{c4}\Sw{-.25}{-.2}{c5}\Sw{-.2}{-.15}{c6}\Sw{-.15}{-.1}{c6x}\Sw{-.1}{-.05}{c7}
\Sw{-.05}{0}{c8}\Sw{0}{.05}{c9}\Sw{.05}{.1}{c10}\Sw{.1}{.15}{c11!50!c12}\Sw{.15}{.2}{c13!50!yellow}\Sw{.2}{.25}{c13!40!c14}
\Sw{.25}{.3}{c14}\Sw{.3}{.35}{c14!50!c15}\Sw{.35}{.4}{c15}\Sw{.4}{.45}{c16}\Sw{.45}{.5}{c16!50!c17}\Sw{.5}{.55}{c17}\Sw{.55}{.6}{c18!85!black}
\end{axis}

\begin{axis}[cbh,width=256pt,at={(524pt,27pt)},anchor=south west,xmin=-1.6,xmax=1.6,xtick={-1,1},xticklabels={−1,1}]
\Sw{-1.6}{-1.4}{c1}\Sw{-1.4}{-1.2}{c1!85!c3}\Sw{-1.2}{-1}{c2}\Sw{-1}{-.8}{c3}\Sw{-.8}{-.6}{c4}\Sw{-.6}{-.4}{c5}
\Sw{-.4}{-.2}{c6x}\Sw{-.2}{0}{c8!60!c7}\Sw{0}{.2}{c9}\Sw{.2}{.4}{c11}\Sw{.4}{.6}{c13!40!yellow}\Sw{.6}{.8}{c14}
\Sw{.8}{1}{c15}\Sw{1}{1.2}{c16}\Sw{1.2}{1.4}{c16!50!c17}\Sw{1.4}{1.6}{c17!70!c18}
\end{axis}

\begin{axis}[cbh,width=255pt,at={(945pt,27pt)},anchor=south west,xmin=-1,xmax=1,xtick={-1,0,1},xticklabels={−1,0,1}]
\Sw{-1}{-.9}{c1}\Sw{-.9}{-.8}{c1!85!c3}\Sw{-.8}{-.7}{c2!70!c1}\Sw{-.7}{-.6}{c2}\Sw{-.6}{-.5}{c3}
\Sw{-.5}{-.4}{c4}\Sw{-.4}{-.3}{c5}\Sw{-.3}{-.2}{c6x}\Sw{-.2}{-.1}{c7}\Sw{-.1}{0}{c8}
\Sw{0}{.1}{c9}\Sw{.1}{.2}{c10}\Sw{.2}{.3}{c12}\Sw{.3}{.4}{c13}\Sw{.4}{.5}{c14}
\Sw{.5}{.6}{c15}\Sw{.6}{.7}{c16}\Sw{.7}{.8}{c16!60!c17}\Sw{.8}{.9}{c17}\Sw{.9}{1}{c17!50!c18}
\end{axis}

%% ---------- text ----------
\node[font=\ttl] at (256,844) {b′ and B′ along y=60\up{°}N};
\node[font=\tk] at (530,827) {b′ along WB};
\node[font=\tk] at (792,827) {b′ along EB};
\node[font=\tk] at (1072,827) {MOC ′};
\node[font=\lagfont,anchor=east] at (129,819) {lag=−6 yrs};
\node[font=\lagfont,anchor=east] at (129,584) {lag=−3 yrs};
\node[font=\lagfont,anchor=east] at (118,350) {lag=0 yrs};
\node[font=\tk] at (32,259) {B′};
\node[font=\tk] at (30,39) {10\up{−9}};
\node[font=\tk] at (40,11) {m\up{2} s\up{−3}};
\node[font=\tk] at (116,37) {b′};
\node[font=\tk] at (416,51) {10\up{−3}};
\node[font=\tk] at (421,29) {m s\up{−2}};
\node[font=\tk] at (816,51) {10\up{−4}};
\node[font=\tk] at (823,28) {m s\up{−2}};
\node[font=\tk] at (1226,37) {Sv};
\end{tikzpicture}
\end{document}
